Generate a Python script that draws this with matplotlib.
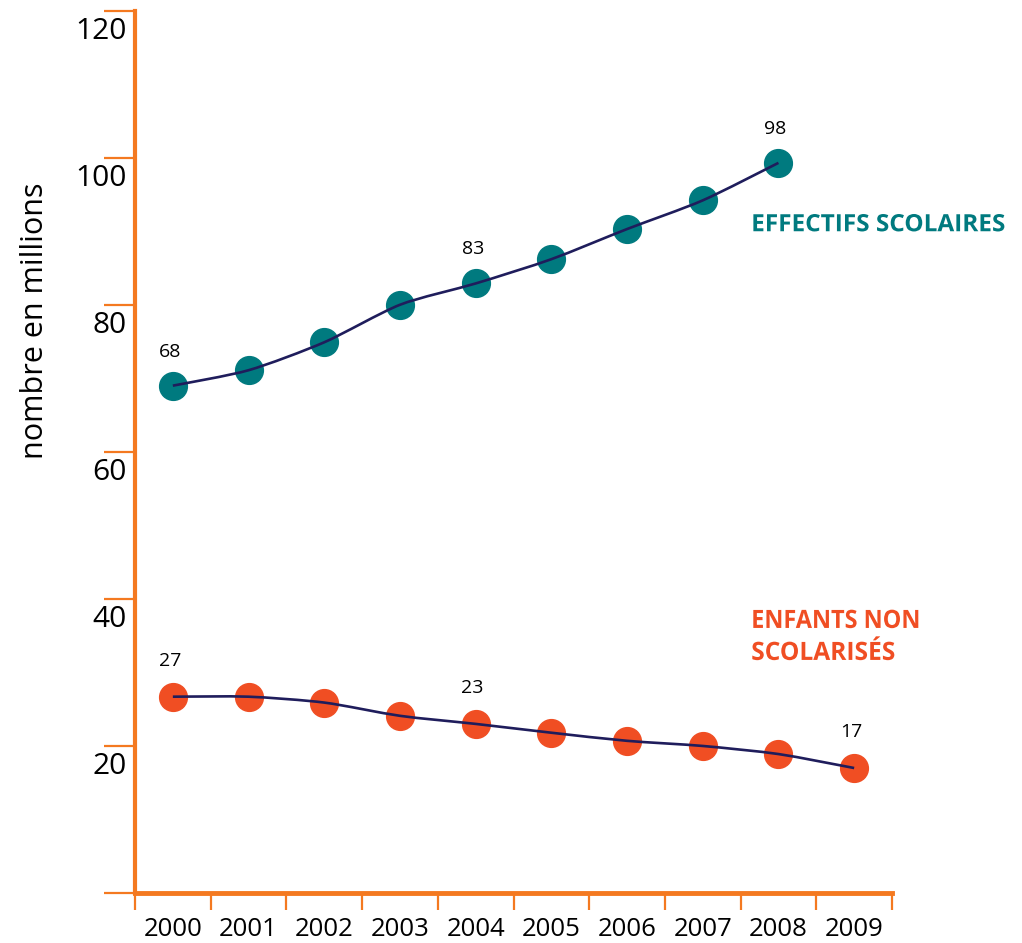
import numpy as np
import matplotlib
matplotlib.use("Agg")
from matplotlib import pyplot as plt
from matplotlib.path import Path
from matplotlib.patches import PathPatch
from matplotlib.textpath import TextPath
from matplotlib.font_manager import FontProperties
from matplotlib.transforms import Affine2D

# ######### Data #########
years = ['2000', '2001', '2002', '2003', '2004', '2005', '2006', '2007', '2008', '2009']
effectifs = [69.0, 71.1, 74.9, 80.0, 82.9, 86.2, 90.3, 94.2, 99.3]          # 2000-2008
non_scolarises = [26.7, 26.7, 25.9, 24.1, 23.0, 21.8, 20.7, 20.0, 18.9, 17.0]  # 2000-2009

effectifs_labels = {0: '68', 4: '83', 8: '98'}
non_scol_labels = {0: '27', 4: '23', 9: '17'}

y_ticks = [0, 20, 40, 60, 80, 100, 120]

# ######### Style #########
axis_orange = '#f47920'
teal = '#007a7f'
red_orange = '#f04e23'
navy = '#1f1d5c'
plt.rcParams['font.family'] = ['Open Sans', 'DejaVu Sans']
bold_fp = FontProperties(family='Open Sans', weight='bold')


def smooth_path(xs, ys, k=1/6):
    # Catmull-Rom style bezier through the points
    pts = np.column_stack([xs, ys]).astype(float)
    verts = [pts[0]]
    codes = [Path.MOVETO]
    n = len(pts)
    for i in range(n - 1):
        p0 = pts[i - 1] if i > 0 else pts[i]
        p1 = pts[i]
        p2 = pts[i + 1]
        p3 = pts[i + 2] if i + 2 < n else pts[i + 1]
        c1 = p1 + (p2 - p0) * k
        c2 = p2 - (p3 - p1) * k
        verts += [c1, c2, p2]
        codes += [Path.CURVE4] * 3
    return Path(verts, codes)


# condensed bold label (no condensed font installed -> squeeze a text path)
cap_h = TextPath((0, 0), 'E', size=1, prop=bold_fp).get_extents().height


def condensed_label(fig, ax, text, x, y, cap_px, width_px, color):
    tp = TextPath((0, 0), text, size=1, prop=bold_fp)
    sy = cap_px / cap_h
    sx = width_px / tp.get_extents().width
    px, py = ax.transData.transform((x, y))
    patch = PathPatch(tp, facecolor=color, edgecolor='none',
                      transform=Affine2D().scale(sx, sy).translate(px, py))
    fig.add_artist(patch)


fig = plt.figure(figsize=(10.22, 9.43), dpi=100)
ax = fig.add_axes([0.1321, 0.053, 0.7407, 0.9357])

x_eff = np.arange(len(effectifs))
x_non = np.arange(len(non_scolarises))

# axes
ax.set_xlim(-0.5, len(years) - 0.5)
ax.set_ylim(0, 120)

ax.plot(x_eff, effectifs, 'o', color=teal, markersize=20, zorder=3)
ax.plot(x_non, non_scolarises, 'o', color=red_orange, markersize=20, zorder=3)

for xs, ys in [(x_eff, effectifs), (x_non, non_scolarises)]:
    ax.add_patch(PathPatch(smooth_path(xs, ys, k=1/8), facecolor='none', edgecolor=navy,
                           lw=1.9, zorder=4, transform=ax.transData))

# value labels
for i, txt in effectifs_labels.items():
    ax.annotate(txt, (x_eff[i], effectifs[i]), xytext=(-3, 34), textcoords='offset pixels',
                ha='center', va='center', fontsize=14, color='black')
for i, txt in non_scol_labels.items():
    ax.annotate(txt, (x_non[i], non_scolarises[i]), xytext=(-3, 36), textcoords='offset pixels',
                ha='center', va='center', fontsize=14, color='black')

# series labels
condensed_label(fig, ax, 'EFFECTIFS SCOLAIRES', 7.64, 90.0, 17, 251, teal)
condensed_label(fig, ax, 'ENFANTS NON', 7.64, 36.05, 18, 165, red_orange)
condensed_label(fig, ax, 'SCOLARISÉS', 7.64, 31.7, 18, 142, red_orange)

ax.spines['top'].set_visible(False)
ax.spines['right'].set_visible(False)
ax.spines['left'].set_color(axis_orange)
ax.spines['bottom'].set_color(axis_orange)
ax.spines['left'].set_linewidth(3)
ax.spines['bottom'].set_linewidth(3.5)

ax.set_yticks(y_ticks)
ax.set_yticklabels([])
ax.tick_params(axis='y', which='major', length=22, width=1.6, color=axis_orange, direction='out')

ax.set_xticks(np.arange(-0.5, len(years), 1.0))
ax.set_xticklabels([])
ax.tick_params(axis='x', which='major', length=12, width=1.6, color=axis_orange, direction='out')
ax.set_xticks(np.arange(len(years)), minor=True)
ax.set_xticklabels(years, minor=True, fontsize=18.5)
ax.tick_params(axis='x', which='minor', length=0, pad=17)

# y tick labels sit just below each tick
for v in y_ticks[1:]:
    ax.annotate(str(v), (0, v), xycoords=('axes fraction', 'data'), xytext=(-8, -21),
                textcoords='offset pixels', ha='right', va='center', fontsize=21.5)

fig.text(0.034, 0.66, 'nombre en millions', rotation=90, ha='center', va='center', fontsize=22)

fig.savefig('out.png', dpi=100)
